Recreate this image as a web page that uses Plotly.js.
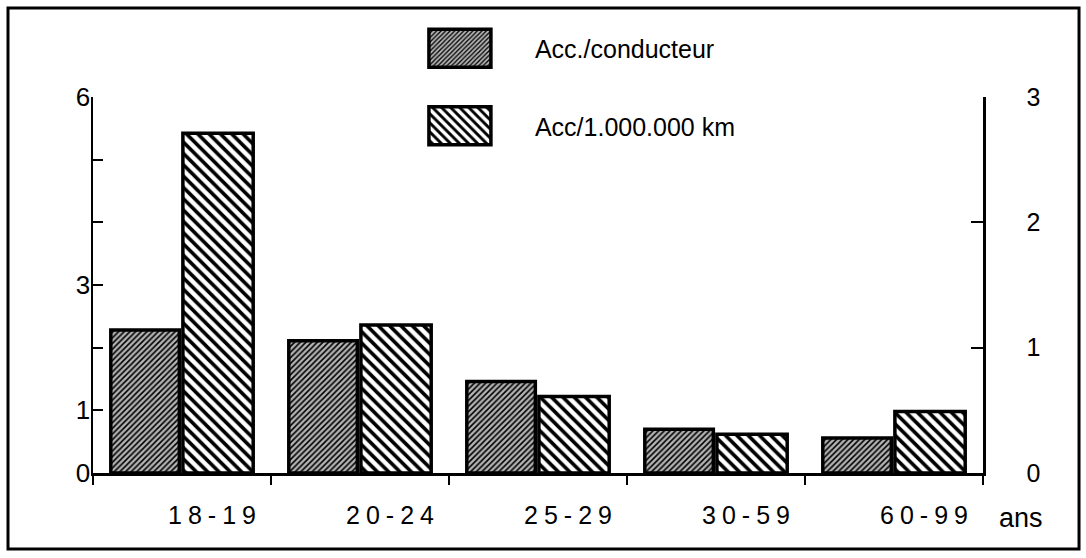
<!DOCTYPE html>
<html>
<head>
<meta charset="utf-8">
<script src="https://cdn.plot.ly/plotly-3.0.1.min.js"></script>
<style>
  html, body { margin: 0; padding: 0; background: #fff; }
  #chart { width: 1086px; height: 558px; }
</style>
</head>
<body>
<div id="chart"></div>
<script>
// ---- data ----
const categories = ["18-19", "20-24", "25-29", "30-59", "60-99"];
const accParConducteur = [2.28, 2.11, 1.46, 0.70, 0.56];      // left axis
const accParMillionKm = [2.71, 1.18, 0.61, 0.31, 0.49];       // right axis
const seriesNames = ["Acc./conducteur", "Acc/1.000.000 km"];
const leftTickVals = [0, 1, 2, 3, 4, 5, 6];
const leftTickText = ["0", "1", "", "3", "", "", "6"];
const rightTickVals = [0, 1, 2, 3];
const rightTickText = ["0", "1", "2", "3"];
const xUnitLabel = "ans";

const FONT = "Liberation Sans, Arial, Helvetica, sans-serif";

const traces = [
  {
    type: "bar",
    name: seriesNames[0],
    x: categories,
    y: accParConducteur,
    yaxis: "y",
    width: 0.385,
    offset: -0.40,
    legendgroup: "a",
    marker: {
      color: "#9a9a9a",
      line: { color: "#000", width: 3.5 },
      pattern: { shape: "/", size: 4, solidity: 0.4, fgcolor: "#000", bgcolor: "#b4b4b4", fillmode: "replace" }
    },
    hoverinfo: "skip"
  },
  {
    type: "bar",
    name: seriesNames[1],
    x: categories,
    y: accParMillionKm,
    yaxis: "y2",
    width: 0.395,
    offset: 0.005,
    legendgroup: "b",
    marker: {
      color: "#fff",
      line: { color: "#000", width: 3.5 },
      pattern: { shape: "\\", size: 8, solidity: 0.45, fgcolor: "#000", bgcolor: "#fff", fillmode: "replace" }
    },
    hoverinfo: "skip"
  }
];

const layout = {
  width: 1086,
  height: 558,
  margin: { l: 93, r: 103, t: 97, b: 85, autoexpand: false },
  paper_bgcolor: "#fff",
  plot_bgcolor: "#fff",
  font: { family: FONT, color: "#000", size: 21 },
  showlegend: true,
  legend: {
    x: 0.328, xanchor: "left",
    y: 1.19, yanchor: "top",
    xref: "paper", yref: "paper",
    bgcolor: "rgba(0,0,0,0)",
    font: { family: FONT, size: 25, color: "#000" },
    itemwidth: 140,
    tracegroupgap: 42,
    traceorder: "grouped"
  },
  bargap: 0.2,
  xaxis: {
    type: "category",
    categoryorder: "array",
    categoryarray: categories,
    range: [-0.5, 4.5],
    showline: true, linecolor: "#000", linewidth: 2.5,
    showgrid: false, zeroline: false,
    ticks: "outside", tickson: "boundaries", ticklen: 9, tickwidth: 2, tickcolor: "#000",
    tickfont: { family: FONT, size: 25, color: "#000" },
    ticklabelshift: 33,
    ticklabelstandoff: 18,
    fixedrange: true
  },
  yaxis: {
    range: [0, 6],
    tickmode: "array", tickvals: leftTickVals, ticktext: leftTickText,
    showline: true, linecolor: "#000", linewidth: 2.5,
    showgrid: false, zeroline: false,
    ticks: "inside", ticklen: 10, tickwidth: 2, tickcolor: "#000",
    tickfont: { family: FONT, size: 26, color: "#000" },
    ticklabelstandoff: -5,
    fixedrange: true
  },
  yaxis2: {
    overlaying: "y", side: "right",
    range: [0, 3],
    tickmode: "array", tickvals: rightTickVals, ticktext: rightTickText,
    showline: true, linecolor: "#000", linewidth: 2.5,
    showgrid: false, zeroline: false,
    ticks: "inside", ticklen: 12, tickwidth: 2, tickcolor: "#000",
    tickfont: { family: FONT, size: 25, color: "#000" },
    ticklabelstandoff: 36,
    fixedrange: true
  },
  annotations: [
    {
      text: xUnitLabel, xref: "paper", yref: "paper",
      x: 1.016, y: -0.12, xanchor: "left", yanchor: "middle",
      showarrow: false, font: { family: FONT, size: 27, color: "#000" }
    }
  ],
  shapes: [
    {
      type: "rect", xref: "paper", yref: "paper",
      x0: -0.0955, x1: 1.1079, y0: -0.2021, y1: 1.2367,
      line: { color: "#000", width: 3 }, fillcolor: "rgba(0,0,0,0)", layer: "above"
    }
  ]
};

Plotly.newPlot("chart", traces, layout, { staticPlot: true, displayModeBar: false }).then(function (gd) {
  // enlarge legend swatches to match the reference boxes
  gd.querySelectorAll(".legend .legendpoints path").forEach(function (p) {
    p.setAttribute("d", "M31,19H-31V-19H31Z");
  });
  // letter-spaced category labels as in the reference
  gd.querySelectorAll(".xtick text").forEach(function (t) {
    t.style.letterSpacing = "6px";
  });
});
</script>
</body>
</html>
